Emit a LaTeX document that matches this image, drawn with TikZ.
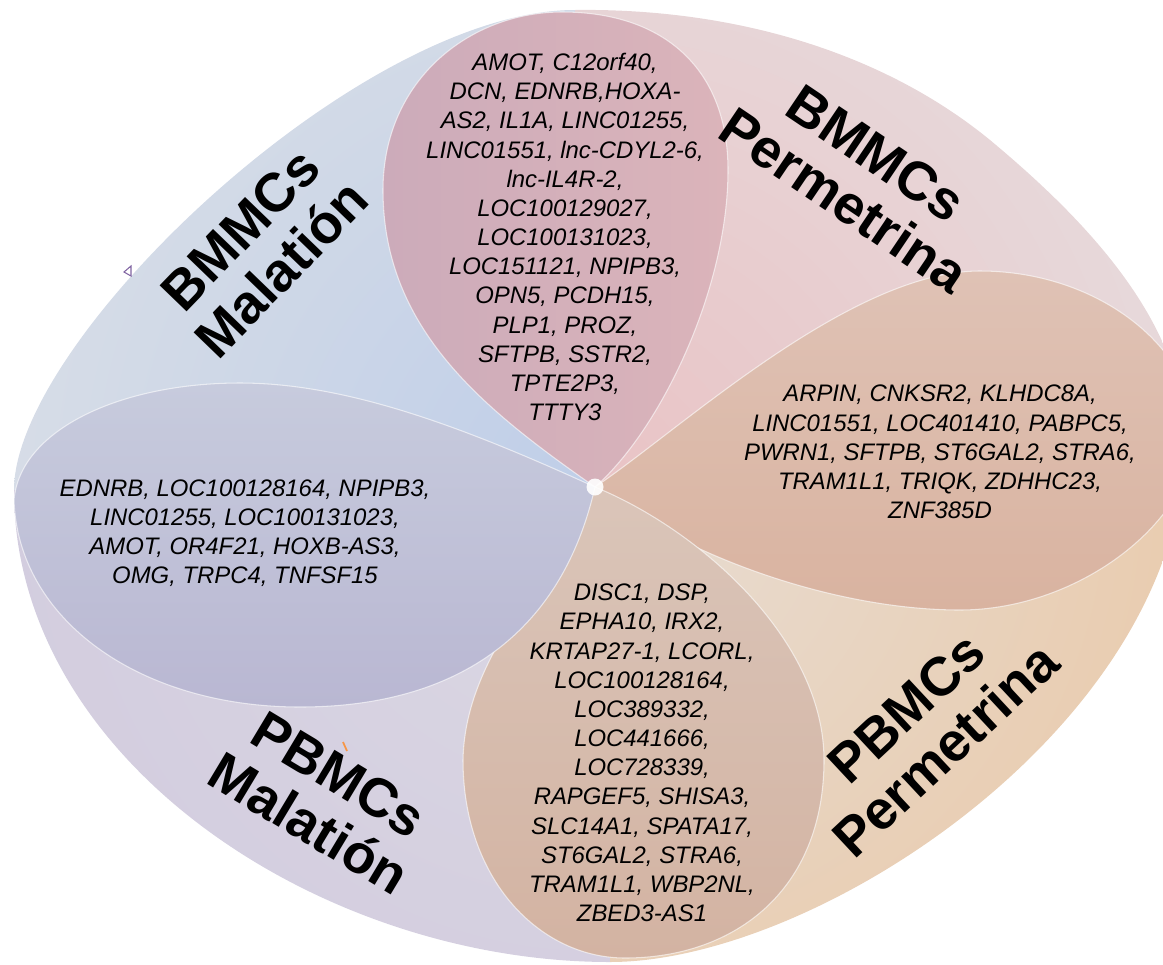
\documentclass[tikz,border=0pt]{standalone}
\usepackage{fontspec}
\setmainfont{Liberation Sans}
\definecolor{qblue-in}{HTML}{BFCEE8}
\definecolor{qblue-out}{HTML}{D7DDE7}
\definecolor{qpink-in}{HTML}{E9C3C5}
\definecolor{qpink-out}{HTML}{E7D9DB}
\definecolor{qpeach-in}{HTML}{E7DDD4}
\definecolor{qpeach-out}{HTML}{E9CCAF}
\definecolor{qlav-in}{HTML}{DBD8E3}
\definecolor{qlav-out}{HTML}{D3CDDF}
\definecolor{glitch}{HTML}{8064A2}
\definecolor{tick}{HTML}{F79646}
\tikzset{
  every petal/.style={draw=white, draw opacity=0.6, line width=0.6pt},
  group label/.style={font=\bfseries\fontsize{31}{32.5}\selectfont, align=center, inner sep=0pt},
  gene list/.style={font=\itshape\fontsize{13.6}{16.6}\selectfont, align=center, inner sep=0pt},
  hub/.style={circle, fill=white, fill opacity=0.9, inner sep=0pt, minimum size=0.34cm}
}
\begin{document}
\begin{tikzpicture}[x=0.02cm, y=-0.02cm]
  \useasboundingbox (0,0) rectangle (1163,964);
  \clip (0,0) rectangle (1163,964);
  \coordinate (centre) at (595,487);
  \coordinate (rim-l) at (14,490);
  \coordinate (rim-t) at (575,10);
  \coordinate (rim-r) at (1185,440);
  \coordinate (rim-b) at (610,962);

  % four quadrants, shaded out from the centre
  \begin{scope}
    \clip (centre) -- (rim-l) .. controls (14,340) and (360,10) .. (rim-t) -- cycle;
    \shade [inner color=qblue-in, outer color=qblue-out] (centre) circle [radius=12cm];
  \end{scope}
  \begin{scope}
    \clip (centre) -- (rim-t) .. controls (730,8) and (880,50) .. (990,140)
      .. controls (1080,215) and (1185,320) .. (rim-r) -- cycle;
    \shade [inner color=qpink-in, outer color=qpink-out] (centre) circle [radius=12cm];
  \end{scope}
  \begin{scope}
    \clip (centre) -- (rim-r) .. controls (1185,720) and (820,962) .. (rim-b) -- cycle;
    \shade [inner color=qpeach-in, outer color=qpeach-out] (centre) circle [radius=12cm];
  \end{scope}
  \begin{scope}
    \clip (centre) -- (rim-b) .. controls (320,962) and (14,760) .. (rim-l) -- cycle;
    \shade [inner color=qlav-in, outer color=qlav-out] (centre) circle [radius=12cm];
  \end{scope}

  % four petals
  \path [every petal, left color={rgb,255:red,204;green,171;blue,186},
      right color={rgb,255:red,219;green,180;blue,186}] (centre)
    .. controls (485,410) and (383,330) .. (383,190)
    .. controls (383,80) and (470,12) .. (562,12)
    .. controls (665,12) and (728,70) .. (728,170)
    .. controls (728,290) and (660,430) .. (centre) -- cycle;
  \path [every petal, top color={rgb,255:red,223;green,194;blue,181},
      bottom color={rgb,255:red,217;green,179;blue,160}] (centre)
    .. controls (680,430) and (850,271) .. (980,271)
    .. controls (1100,271) and (1195,350) .. (1195,432)
    .. controls (1195,520) and (1080,610) .. (960,610)
    .. controls (840,610) and (690,560) .. (centre) -- cycle;
  \path [every petal, top color={rgb,255:red,218;green,197;blue,185},
      bottom color={rgb,255:red,211;green,179;blue,162}] (centre)
    .. controls (560,570) and (465,650) .. (463,760)
    .. controls (463,880) and (540,958) .. (625,958)
    .. controls (735,958) and (824,890) .. (824,760)
    .. controls (824,640) and (700,530) .. (centre) -- cycle;
  \path [every petal, top color={rgb,255:red,199;green,203;blue,221},
      bottom color={rgb,255:red,185;green,183;blue,210}] (centre)
    .. controls (470,430) and (350,383) .. (240,383)
    .. controls (120,383) and (20,430) .. (14,500)
    .. controls (18,620) and (140,707) .. (300,707)
    .. controls (450,707) and (560,640) .. (centre) -- cycle;

  \node [hub] (hub) at (centre) {};

  % stray marks
  \draw [glitch, line width=0.6pt] (124,272) -- (131,266) -- (131,276) -- cycle;
  \draw [tick, line width=1pt] (343,742) -- (347,751);

  % group labels
  \node [group label, rotate=46] (bm-mal) at (261,249) {BMMCs\\Malatión};
  \node [group label, rotate=-34] (bm-perm) at (860,177) {BMMCs\\Permetrina};
  \node [group label, rotate=43] (pb-perm) at (926,729) {PBMCs\\Permetrina};
  \node [group label, rotate=-31] (pb-mal) at (324,799) {PBMCs\\Malatión};

  % shared genes
  \node [gene list] (shared-bmmcs) at (565,237) {AMOT, C12orf40,\\DCN, EDNRB,HOXA-\\AS2, IL1A, LINC01255,\\LINC01551, lnc-CDYL2-6,\\lnc-IL4R-2,\\LOC100129027,\\LOC100131023,\\LOC151121, NPIPB3,\\OPN5, PCDH15,\\PLP1, PROZ,\\SFTPB, SSTR2,\\TPTE2P3,\\TTTY3};
  \node [gene list] (shared-perm) at (940,452) {ARPIN, CNKSR2, KLHDC8A,\\LINC01551, LOC401410, PABPC5,\\PWRN1, SFTPB, ST6GAL2, STRA6,\\TRAM1L1, TRIQK, ZDHHC23,\\ZNF385D};
  \node [gene list] (shared-pbmcs) at (642,753) {DISC1, DSP,\\EPHA10, IRX2,\\KRTAP27-1, LCORL,\\LOC100128164,\\LOC389332,\\LOC441666,\\LOC728339,\\RAPGEF5, SHISA3,\\SLC14A1, SPATA17,\\ST6GAL2, STRA6,\\TRAM1L1, WBP2NL,\\ZBED3-AS1};
  \node [gene list] (shared-mal) at (245,533) {EDNRB, LOC100128164, NPIPB3,\\LINC01255, LOC100131023,\\AMOT, OR4F21, HOXB-AS3,\\OMG, TRPC4, TNFSF15};
\end{tikzpicture}
\end{document}
